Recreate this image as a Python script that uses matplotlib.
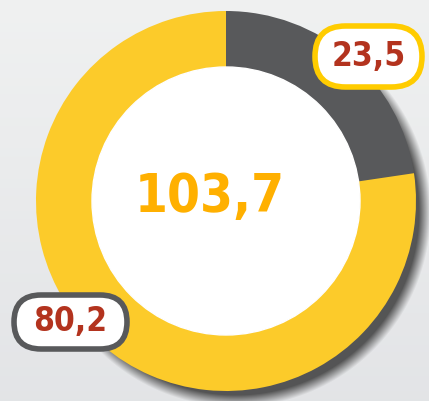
import numpy as np
import matplotlib.pyplot as plt
from matplotlib import font_manager
from matplotlib.patches import FancyBboxPatch

# Data
labels = ["Gris", "Jaune"]
values = [23.5, 80.2]
value_texts = ["23,5", "80,2"]
total_text = "103,7"

GRAY = "#58595b"
YELLOW = "#fccb2a"
RED = "#b3331e"
ORANGE = "#ffb000"

names = {f.name for f in font_manager.fontManager.ttflist}
FAM = ["Liberation Sans Narrow", "DejaVu Sans"] if "Liberation Sans Narrow" in names else ["DejaVu Sans"]

W, H = 429, 401
fig = plt.figure(figsize=(W / 100, H / 100), dpi=100)
ax = fig.add_axes([0, 0, 1, 1])

# background gradient
yy = np.linspace(0, 1, 200)[:, None]
top = np.array([0.94, 0.945, 0.945])
bot = np.array([0.89, 0.895, 0.905])
bg = top * (1 - yy[..., None]) + bot * yy[..., None]
bg = np.repeat(bg, 2, axis=1)
ax.imshow(bg, extent=[0, W, 0, H], origin="upper", aspect="auto", zorder=0)

cx, cy, R, r_in = 226, H - 201, 190, 134

# soft drop shadow
gx, gy = np.meshgrid(np.arange(W) + 0.5, np.arange(H) + 0.5)
d = np.hypot(gx - (cx + 10), (H - gy) - (cy - 11))
a = np.clip((R + 5 - d) / 12, 0, 1) * 0.9
sh = np.zeros((H, W, 4))
sh[..., :3] = 0.27
sh[..., 3] = a
ax.imshow(sh, extent=[0, W, 0, H], origin="upper", aspect="auto", zorder=1)

wedges, _ = ax.pie(values, colors=[GRAY, YELLOW], startangle=90, counterclock=False,
                   center=(cx, cy), radius=R, frame=True,
                   wedgeprops=dict(width=R - r_in, linewidth=0))
for w in wedges:
    w.set_zorder(2)
ax.add_patch(plt.Circle((cx, cy), r_in, color="white", zorder=2))

ax.text(cx - 16, cy + 4, total_text, ha="center", va="center", color=ORANGE,
        fontsize=38, fontweight="bold", fontstretch="condensed", family=FAM, zorder=4)

# value boxes
boxes = [(312, H - 90, 113, 67, "#ffcc00"), (11, H - 352, 119, 60, GRAY)]
for (x0, y0, bw, bh, ec), txt in zip(boxes, value_texts):
    p = FancyBboxPatch((x0 + 3, y0 + 3), bw - 6, bh - 6,
                       boxstyle="round,pad=0,rounding_size=%f" % ((bh - 6) / 2),
                       fc="white", ec=ec, lw=4, zorder=5)
    ax.add_patch(p)
    ax.text(x0 + bw / 2, y0 + bh / 2, txt, ha="center", va="center", color=RED,
            fontsize=24, fontweight="bold", fontstretch="condensed", family=FAM, zorder=6)

ax.set_xlim(0, W)
ax.set_ylim(0, H)
ax.set_aspect("auto")
ax.axis("off")
fig.savefig("out.png", dpi=100)
